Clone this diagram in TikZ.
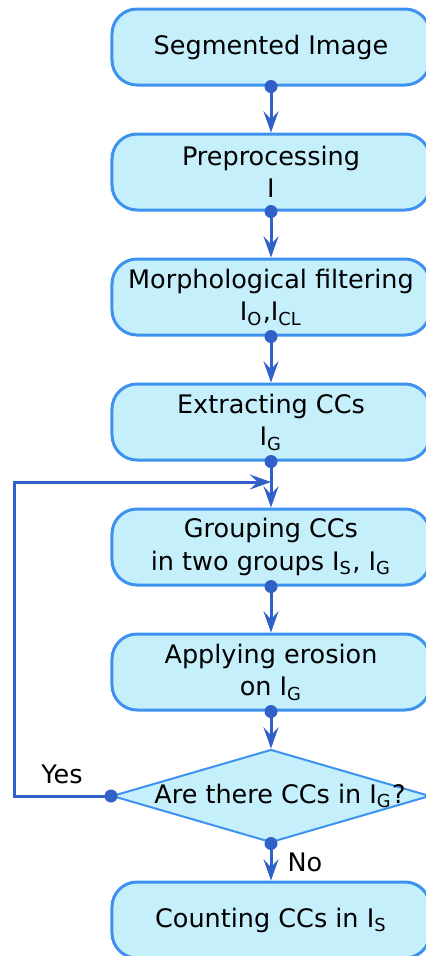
\documentclass[tikz,border=0pt]{standalone}
\usepackage{fontspec}
\setmainfont{DejaVu Sans}
\usetikzlibrary{shapes.geometric,arrows.meta}
\definecolor{boxline}{RGB}{61,146,240}
\definecolor{boxfill}{RGB}{197,239,250}
\definecolor{linkcol}{RGB}{48,96,200}
\newcommand{\lowidx}[1]{\textsubscript{#1}}
\tikzset{
	stepbox/.style={rectangle,rounded corners=10pt,draw=boxline,fill=boxfill,
		line width=1.2pt,minimum width=127.2pt,minimum height=30.4pt,
		align=center,inner sep=0pt},
	decision/.style={diamond,draw=boxline,fill=boxfill,line width=0.8pt,
		minimum width=127.2pt,minimum height=37.2pt,inner sep=0pt},
	flow/.style={draw=linkcol,line width=1.2pt,
		-{Stealth[length=8.5pt,width=6pt,inset=3.2pt]}},
	dot/.style={fill=linkcol}
}
\begin{document}
\begin{tikzpicture}[x=0.4pt,y=-0.4pt,font=\fontsize{10.2}{13}\selectfont]
			\useasboundingbox (0,0) rectangle (426,956);
			\begin{scope}[every node/.style={stepbox}]
			\node (seg) at (271,47) {Segmented Image};
			\node (pre) at (271,172) {Preprocessing\\I};
			\node (morph) at (271,297) {Morphological filtering\\I\lowidx{O},I\lowidx{CL}};
			\node (ext) at (271,422) {Extracting CCs\\I\lowidx{G}};
			\node (grp) at (271,547) {Grouping CCs\\in two groups I\lowidx{S}, I\lowidx{G}};
			\node (ero) at (271,672) {Applying erosion\\on I\lowidx{G}};
			\node (cnt) at (271,920) {Counting CCs in I\lowidx{S}};
			\end{scope}
			\node[decision] (dec) at (271,796) {};
			\node (q) at (280,796) {Are there CCs in I\lowidx{G}?};
			\coordinate (join) at (271,482);
			
			\foreach \a/\b in {seg/pre,pre/morph,morph/ext,ext/grp,grp/ero,ero/dec,dec/cnt}
			{
				\draw[flow] (\a.south) -- (\b.north);
				\fill[dot] (\a.south) circle (2.6pt);
			}
			\draw[flow] (dec.west) -- ++(-96,0) |- (join);
			\fill[dot] (dec.west) circle (2.6pt);
			
			\node (yes) at (62,774) {Yes};
			\node (no) at (305,862) {No};
			\end{tikzpicture}
\end{document}
